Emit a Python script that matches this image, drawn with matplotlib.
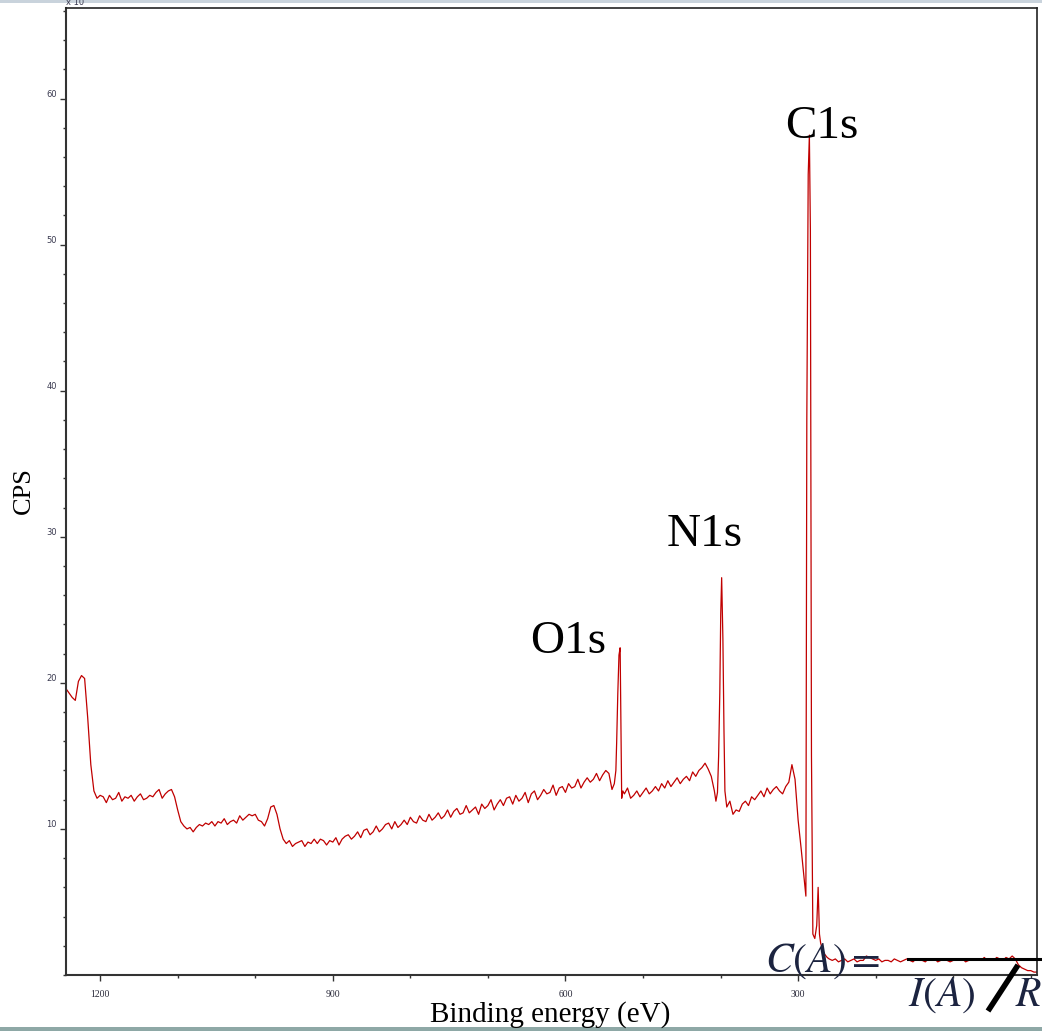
import numpy as np
import matplotlib
matplotlib.use("Agg")
import matplotlib.pyplot as plt
from matplotlib.lines import Line2D
from matplotlib.patches import Rectangle
from matplotlib.ticker import MultipleLocator

# Survey scan: 4 eV steps from 1244 eV down to -8 eV, counts in 10^3 CPS
survey_start = 1244
survey_step = 4
survey_cps = [
    19.6, 19.3, 19.0, 18.8, 20.1, 20.5, 20.3, 17.6, 14.4, 12.6,   # 1244
    12.1, 12.3, 12.2, 11.8, 12.3, 12.0, 12.1, 12.5, 11.9, 12.2,   # 1204
    12.1, 12.3, 11.9, 12.2, 12.4, 12.0, 12.1, 12.3, 12.2, 12.5,   # 1164
    12.7, 12.1, 12.4, 12.6, 12.7, 12.2, 11.3, 10.5, 10.2, 10.0,   # 1124
    10.1, 9.8, 10.1, 10.3, 10.2, 10.4, 10.3, 10.5, 10.2, 10.5,    # 1084
    10.4, 10.7, 10.3, 10.5, 10.6, 10.4, 10.9, 10.6, 10.8, 11.0,   # 1044
    10.9, 11.0, 10.6, 10.5, 10.2, 10.7, 11.5, 11.6, 11.0, 10.0,   # 1004
    9.3, 9.0, 9.2, 8.8, 9.0, 9.1, 9.2, 8.8, 9.1, 9.0,             # 964
    9.3, 9.0, 9.3, 9.2, 8.9, 9.2, 9.1, 9.4, 8.9, 9.3,             # 924
    9.5, 9.6, 9.3, 9.5, 9.8, 9.4, 9.9, 10.0, 9.6, 9.8,            # 884
    10.2, 9.8, 10.0, 10.3, 10.4, 10.0, 10.5, 10.1, 10.3, 10.6,    # 844
    10.3, 10.8, 10.5, 10.4, 10.9, 10.6, 10.5, 11.0, 10.6, 10.8,   # 804
    11.1, 10.7, 10.9, 11.3, 10.8, 11.2, 11.4, 11.0, 11.1, 11.6,   # 764
    11.1, 11.3, 11.5, 11.0, 11.7, 11.4, 11.6, 12.0, 11.3, 11.7,   # 724
    12.0, 11.6, 12.1, 12.2, 11.7, 12.3, 11.9, 12.1, 12.5, 11.8,   # 684
    12.4, 12.6, 12.0, 12.3, 12.7, 12.4, 12.5, 13.0, 12.3, 12.8,   # 644
    12.9, 12.5, 13.1, 12.8, 12.9, 13.4, 12.8, 13.2, 13.5, 13.2,   # 604
    13.4, 13.8, 13.3, 13.7, 14.0, 13.8, 12.7, 13.1, 19.3, 17.5,   # 564
    12.4, 12.8, 12.1, 12.3, 12.6, 12.2, 12.5, 12.8, 12.4, 12.6,   # 524
    12.9, 12.6, 13.1, 12.8, 13.3, 12.9, 13.2, 13.5, 13.1, 13.4,   # 484
    13.6, 13.3, 13.9, 13.6, 14.0, 14.2, 14.5, 14.1, 13.6, 12.6,   # 444
    12.2, 24.7, 16.7, 11.5, 11.9, 11.0, 11.3, 11.2, 11.7, 11.9,   # 404
    11.6, 12.2, 12.0, 12.3, 12.6, 12.2, 12.8, 12.4, 12.7, 12.9,   # 364
    12.6, 12.4, 12.9, 13.2, 14.4, 13.4, 10.6, 8.6, 6.5, 50.0,     # 324
    55.0, 2.6, 3.8, 2.4, 1.6, 1.2, 1.1, 1.0, 1.1, 0.9,            # 284
    1.0, 1.1, 0.9, 1.0, 1.1, 0.9, 1.0, 1.0, 1.3, 1.2,             # 244
    1.1, 1.0, 1.1, 0.9, 1.0, 1.0, 0.9, 1.1, 1.0, 0.9,             # 204
    1.0, 1.1, 1.0, 0.9, 1.1, 1.0, 1.0, 0.9, 1.1, 1.0,             # 164
    1.1, 0.9, 1.0, 1.1, 1.0, 0.9, 1.0, 1.1, 1.0, 1.1,             # 124
    0.9, 1.0, 1.1, 1.0, 1.1, 1.0, 1.2, 1.0, 1.1, 1.0,             # 84
    1.2, 1.1, 1.0, 1.2, 1.1, 1.3, 1.1, 0.7, 0.5, 0.4,             # 44
    0.3, 0.3, 0.2, 0.2,                                           # 4
]

# Core levels recorded with a finer step
o1s_ev = [537, 535, 534, 532.5, 531, 529.5, 528.5, 527.5, 526]
o1s_cps = [13.1, 14.0, 15.9, 19.3, 21.9, 22.4, 17.5, 12.1, 12.6]
n1s_ev = [406, 404, 402.5, 401, 399.8, 398.6, 397, 395.6, 394.4]
n1s_cps = [11.9, 12.5, 15.0, 19.3, 24.7, 27.2, 23.0, 16.7, 12.6]
c1s_ev = [290, 288.8, 287, 285.5, 284.2, 282.8, 281, 278.5, 276, 274.2,
          272.5, 271, 268.5, 265.5, 262.5]
c1s_cps = [5.4, 38.0, 54.8, 57.5, 51.0, 15.0, 2.8, 2.5, 3.4, 6.0,
           2.8, 2.2, 1.7, 1.4, 1.2]

peak_names = ["O1s", "N1s", "C1s"]
label_ev = [597, 421, 269]
label_cps = [22.05, 29.4, 57.3]

# merge the fine peak scans into the survey
ev = survey_start - survey_step * np.arange(len(survey_cps), dtype=float)
cps = np.array(survey_cps, dtype=float)
for pev, pcps in [(o1s_ev, o1s_cps), (n1s_ev, n1s_cps), (c1s_ev, c1s_cps)]:
    keep = (ev > max(pev)) | (ev < min(pev))
    ev = np.concatenate([ev[keep], pev])
    cps = np.concatenate([cps[keep], pcps])
order = np.argsort(-ev)
ev, cps = ev[order], cps[order]

W, H = 1042, 1031
fig = plt.figure(figsize=(W / 100, H / 100), dpi=100)


def fx(px):
    return px / W


def fy(py):
    return 1 - py / H


ax = fig.add_axes([fx(66), fy(975), fx(1037) - fx(66), fy(8) - fy(975)])
ax.plot(ev, cps, color="#c00000", lw=0.9)
ax.set_xlim(1244, -8)
ax.set_ylim(0, 66.2)

ax.xaxis.set_minor_locator(MultipleLocator(100))
ax.yaxis.set_minor_locator(MultipleLocator(2))
ax.set_yticks([10, 20, 30, 40, 50, 60])
ax.set_xticks([1200, 900, 600, 300])
ax.tick_params(which="major", length=4.5, width=1.0, color="#333333", pad=2)
ax.tick_params(which="minor", length=2.5, width=1.0, color="#333333")
ax.tick_params(axis="x", which="major", pad=6)
for lab in ax.get_yticklabels():
    lab.set_fontsize(6)
    lab.set_color("#3a3a50")
    lab.set_family("DejaVu Sans")
    lab.set_verticalalignment("bottom")
for lab in ax.get_xticklabels():
    lab.set_fontsize(7)
    lab.set_color("#2a2a3a")
    lab.set_family("Liberation Serif")

for side in ["left", "bottom"]:
    ax.spines[side].set_linewidth(1.5)
    ax.spines[side].set_color("#333333")
for side in ["top", "right"]:
    ax.spines[side].set_linewidth(1.2)
    ax.spines[side].set_color("#222222")

for name, x, y in zip(peak_names, label_ev, label_cps):
    ax.text(x, y, name, ha="center", va="baseline", fontsize=34,
            family="Liberation Serif", color="black")

fig.text(fx(24), fy(491), "CPS", rotation=90, ha="center", va="center",
         fontsize=19, family="Liberation Serif")
fig.text(fx(550), fy(1022), "Binding energy (eV)", ha="center", va="baseline",
         fontsize=21, family="Liberation Serif")
fig.text(fx(66), fy(5), "x 10", ha="left", va="baseline", fontsize=6,
         color="#3a3a50")

# formula pasted over the lower right corner
ink = "#1c2440"
fig.text(fx(765), fy(972), r"$C(A) =$", ha="left", va="baseline", fontsize=30,
         color=ink, math_fontfamily="stix")
fig.add_artist(Line2D([fx(908), fx(1042)], [fy(959), fy(959)], lw=2.2, color="black"))
fig.text(fx(908), fy(1006), r"$I(A)$", ha="left", va="baseline", fontsize=30,
         color=ink, math_fontfamily="stix")
fig.add_artist(Line2D([fx(988), fx(1018)], [fy(1011), fy(965)], lw=4, color="black",
                      solid_capstyle="butt"))
fig.text(fx(1015), fy(1006), r"$R$", ha="left", va="baseline", fontsize=30,
         color=ink, math_fontfamily="stix")

# window frame strips
fig.add_artist(Rectangle((0, fy(3)), 1, fy(0) - fy(3), transform=fig.transFigure,
                         color="#c9d3dc", lw=0))
fig.add_artist(Rectangle((0, 0), 1, fy(1027), transform=fig.transFigure,
                         color="#8ea8a6", lw=0))

fig.savefig("out.png", dpi=100)
